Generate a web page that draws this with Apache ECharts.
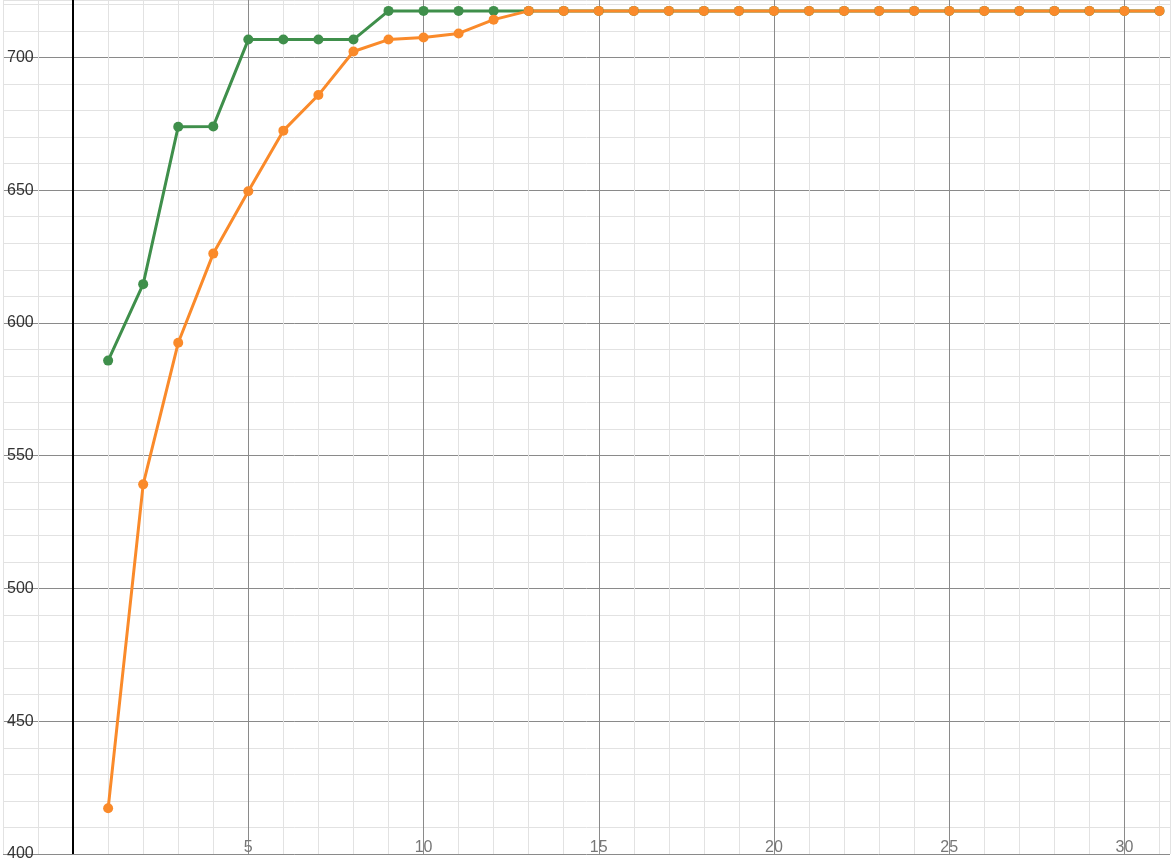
<!DOCTYPE html>
<html>
<head>
<meta charset="utf-8">
<script src="https://cdn.jsdelivr.net/npm/echarts@6/dist/echarts.min.js"></script>
<style>html,body{margin:0;padding:0;background:#fff;}#main{width:1173px;height:862px;}</style>
</head>
<body>
<div id="main"></div>
<script>
var xs = [];
for (var i = 1; i <= 31; i++) xs.push(i);
var greenVals = [585.8, 614.6, 673.9, 674, 706.7, 706.7, 706.7, 706.7, 717.5, 717.5, 717.5, 717.5,
  717.5, 717.5, 717.5, 717.5, 717.5, 717.5, 717.5, 717.5, 717.5, 717.5, 717.5, 717.5, 717.5, 717.5,
  717.5, 717.5, 717.5, 717.5, 717.5];
var orangeVals = [417.2, 539.2, 592.5, 626.1, 649.6, 672.4, 685.8, 702.2, 706.7, 707.5, 709, 714.2,
  717.5, 717.5, 717.5, 717.5, 717.5, 717.5, 717.5, 717.5, 717.5, 717.5, 717.5, 717.5, 717.5, 717.5,
  717.5, 717.5, 717.5, 717.5, 717.5];

function pairs(v) { return xs.map(function (x, i) { return [x, v[i]]; }); }

var light = '#e2e2e2', dark = '#8a8a8a';
var myChart = echarts.init(document.getElementById('main'));
var option = {
  animation: false,
  backgroundColor: '#fff',
  grid: { left: 0, right: 0, top: 0, bottom: 0 },
  xAxis: {
    type: 'value', min: -2, max: 31.3, interval: 1,
    axisLine: { show: false }, axisTick: { show: false },
    axisLabel: {
      inside: true, color: '#777', fontSize: 16, margin: -2,
      formatter: function (v) { return (v > 0 && v % 5 === 0) ? v : ''; }
    },
    splitLine: { lineStyle: { color: [light, light, dark, light, light], width: 1 } }
  },
  yAxis: {
    type: 'value', min: 400, max: 721.6, interval: 10,
    axisLine: { show: false }, axisTick: { show: false },
    axisLabel: {
      inside: true, color: '#333', fontSize: 16, margin: 4,
      formatter: function (v) { return v % 50 === 0 ? v : ''; }
    },
    splitLine: { lineStyle: { color: [dark, light, light, light, light], width: 1 } }
  },
  series: [{
    type: 'line', data: pairs(greenVals), symbol: 'circle', symbolSize: 10,
    itemStyle: { color: '#3f8f4b' }, lineStyle: { width: 3, color: '#3f8f4b' },
    markLine: {
      silent: true, symbol: 'none', label: { show: false },
      lineStyle: { color: '#000', width: 2, type: 'solid' },
      data: [{ xAxis: 0 }]
    }
  }, {
    type: 'line', data: pairs(orangeVals), symbol: 'circle', symbolSize: 10,
    itemStyle: { color: '#fa8a2a' }, lineStyle: { width: 3, color: '#fa8a2a' }
  }]
};
myChart.setOption(option);
</script>
</body>
</html>
